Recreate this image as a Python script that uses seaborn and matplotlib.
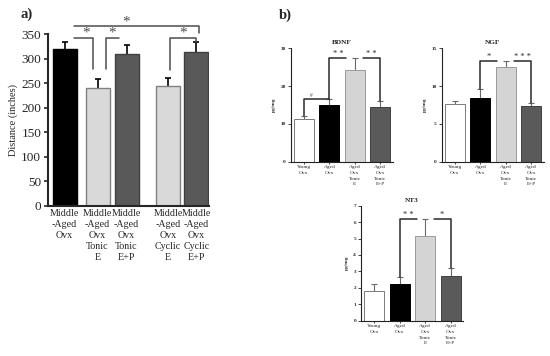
import matplotlib
matplotlib.use("Agg")
import matplotlib.pyplot as plt
import seaborn as sns
import numpy as np
import pandas as pd

# ---------------- data ----------------
a_groups = ["Middle\n-Aged\nOvx", "Middle\n-Aged\nOvx\nTonic\nE", "Middle\n-Aged\nOvx\nTonic\nE+P",
            "Middle\n-Aged\nOvx\nCyclic\nE", "Middle\n-Aged\nOvx\nCyclic\nE+P"]
a_distance = [320, 241, 309, 244, 314]
a_sem = [14, 17, 19, 16, 21]
a_yticks = [0, 50, 100, 150, 200, 250, 300, 350]

b_groups = ["Young\nOvx", "Aged\nOvx", "Aged\nOvx\nTonic\nE", "Aged\nOvx\nTonic\nE+P"]
bdnf_mean = [11.2, 15.0, 24.3, 14.6]
bdnf_sem = [0.9, 1.5, 3.1, 1.4]
ngf_mean = [7.63, 8.38, 12.48, 7.37]
ngf_sem = [0.40, 1.30, 0.80, 0.43]
nt3_mean = [1.83, 2.21, 5.13, 2.72]
nt3_sem = [0.42, 0.43, 1.06, 0.51]

# ---------------- style ----------------
sns.set_theme(style="ticks")
plt.rcParams["font.family"] = ["Liberation Serif", "DejaVu Serif"]
plt.rcParams["axes.linewidth"] = 1.0

fig = plt.figure(figsize=(5.5, 3.56), dpi=100)

# ================= panel a =================
a_pos = [0, 1.1, 2.07, 3.45, 4.4]          # layout positions of the bars
a_colors = ["#000000", "#d9d9d9", "#595959", "#d9d9d9", "#595959"]
a_edges = ["#000000", "#808080", "#404040", "#808080", "#404040"]
axa = fig.add_axes([0.0864, 0.4222, 0.2936, 0.4815])
dfa = pd.DataFrame({"pos": a_pos, "dist": a_distance, "grp": a_groups})
sns.barplot(data=dfa, x="pos", y="dist", hue="grp", palette=a_colors, native_scale=True,
            width=0.8 / 0.95, legend=False, ax=axa, linewidth=1.0, edgecolor="#555")
for p, ec in zip(axa.patches, a_edges):
    p.set_edgecolor(ec)
axa.errorbar(a_pos, a_distance, yerr=a_sem, fmt="none", ecolor="black", elinewidth=1.2,
             capsize=2.5, capthick=1.2, zorder=0.5)
axa.set_xlim(-0.567, 4.817)
axa.set_ylim(0, 350)
axa.set_yticks(a_yticks)
axa.set_yticklabels([str(t) for t in a_yticks], fontsize=9.5)
axa.set_xticks(a_pos)
axa.set_xticklabels(a_groups, fontsize=7.2, linespacing=1.28)
axa.tick_params(axis="x", length=0, pad=2.5)
axa.tick_params(axis="y", length=3, width=1.2, pad=1.5)
axa.set_xlabel("")
axa.set_ylabel("Distance (inches)", fontsize=7.5, labelpad=2)
for s in ["top", "right"]:
    axa.spines[s].set_visible(False)
for s in ["left", "bottom"]:
    axa.spines[s].set_linewidth(1.5)
axa.spines["left"].set_bounds(0, 350)

lc = "#4d4d4d"
lw = 1.1
sfs = 11
axa.plot([a_pos[0] + 0.3, a_pos[4] + 0.08, a_pos[4] + 0.08], [367, 367, 352], color=lc, lw=lw, clip_on=False)
axa.text(2.04, 376, "*", ha="center", va="center", fontsize=sfs, color=lc)
axa.plot([a_pos[0] + 0.3, a_pos[1] - 0.16, a_pos[1] - 0.16], [343, 343, 280], color=lc, lw=lw, clip_on=False)
axa.text(0.71, 352, "*", ha="center", va="center", fontsize=sfs, color=lc)
axa.plot([a_pos[1] + 0.27, a_pos[1] + 0.27, a_pos[2] - 0.27], [280, 342, 342], color=lc, lw=lw, clip_on=False)
axa.text(1.59, 352, "*", ha="center", va="center", fontsize=sfs, color=lc)
axa.plot([a_pos[3] + 0.07, a_pos[3] + 0.07, a_pos[4], a_pos[4]], [277, 342, 342, 335], color=lc, lw=lw, clip_on=False)
axa.text(3.96, 352, "*", ha="center", va="center", fontsize=sfs, color=lc)

fig.text(27 / 550, 1 - 14 / 356, "a)", fontsize=10.5, fontweight="bold", ha="center", va="center")
fig.text(285 / 550, 1 - 15 / 356, "b)", fontsize=10.5, fontweight="bold", ha="center", va="center")

# ================= panel b =================
b_colors = ["#ffffff", "#000000", "#d4d4d4", "#5a5a5a"]
b_edges = ["#7a7a7a", "#000000", "#9a9a9a", "#404040"]


def panel_b(rect, means, sems, ymax, ystep, title, lstar, rstar, hash_mark=False):
    ax = fig.add_axes(rect)
    sns.barplot(x=b_groups, y=means, hue=b_groups, palette=b_colors, width=0.78,
                legend=False, ax=ax, linewidth=0.7, edgecolor="#555")
    for p, ec in zip(ax.patches, b_edges):
        p.set_edgecolor(ec)
    ax.errorbar(range(4), means, yerr=sems, fmt="none", ecolor="#6a6a6a", elinewidth=0.8,
                capsize=2.2, capthick=0.8, zorder=0.5)
    ax.set_xlim(-0.52, 3.5)
    ax.set_ylim(0, ymax)
    ticks = np.arange(0, ymax + 0.001, ystep)
    ax.set_yticks(ticks)
    ax.set_yticklabels([f"{t:g}" for t in ticks], fontsize=3.8, fontweight="bold")
    ax.set_xticks(range(4))
    ax.set_xticklabels(b_groups, fontsize=3.9, linespacing=1.55)
    ax.tick_params(axis="x", length=1.5, width=0.6, pad=1.2)
    ax.tick_params(axis="y", length=2, width=0.6, pad=1.5)
    ax.set_ylabel("pg/mg", fontsize=3.9, fontweight="bold", labelpad=3)
    ax.set_xlabel("")
    ax.set_title(title, fontsize=5.2, fontweight="bold", pad=3)
    for s in ["top", "right"]:
        ax.spines[s].set_visible(False)
    for s in ["left", "bottom"]:
        ax.spines[s].set_linewidth(0.8)
        ax.spines[s].set_color("#222")
    top = means[2] + sems[2]
    off = ymax * 0.035
    blc, blw = "#2a2a2a", 1.1
    ax.plot([1, 1, 1.67], [means[1] + sems[1], top, top], color=blc, lw=blw, clip_on=False)
    ax.plot([2.33, 3, 3], [top, top, means[3] + sems[3]], color=blc, lw=blw, clip_on=False)
    ax.text(1.34, top + off * 0.1, lstar, ha="center", va="bottom", fontsize=6, color=blc)
    ax.text(2.66, top + off * 0.1, rstar, ha="center", va="bottom", fontsize=6, color=blc)
    if hash_mark:
        h = means[1] + sems[1]
        ax.plot([0, 0, 1], [means[0] + sems[0], h, h], color=blc, lw=blw, clip_on=False)
        ax.text(0.3, h + off * 0.3, "#", ha="center", va="bottom", fontsize=4, color="#555")
    return ax


panel_b([0.5285, 0.5458, 0.186, 0.3185], bdnf_mean, bdnf_sem, 30, 10, "BDNF", "* *", "* *", True)
panel_b([0.8030, 0.5458, 0.186, 0.3185], ngf_mean, ngf_sem, 15, 5, "NGF", "*", "* * *")
panel_b([0.6564, 0.0992, 0.186, 0.3230], nt3_mean, nt3_sem, 7, 1, "NT3", "* *", "*")

fig.savefig("out.png", dpi=100)
